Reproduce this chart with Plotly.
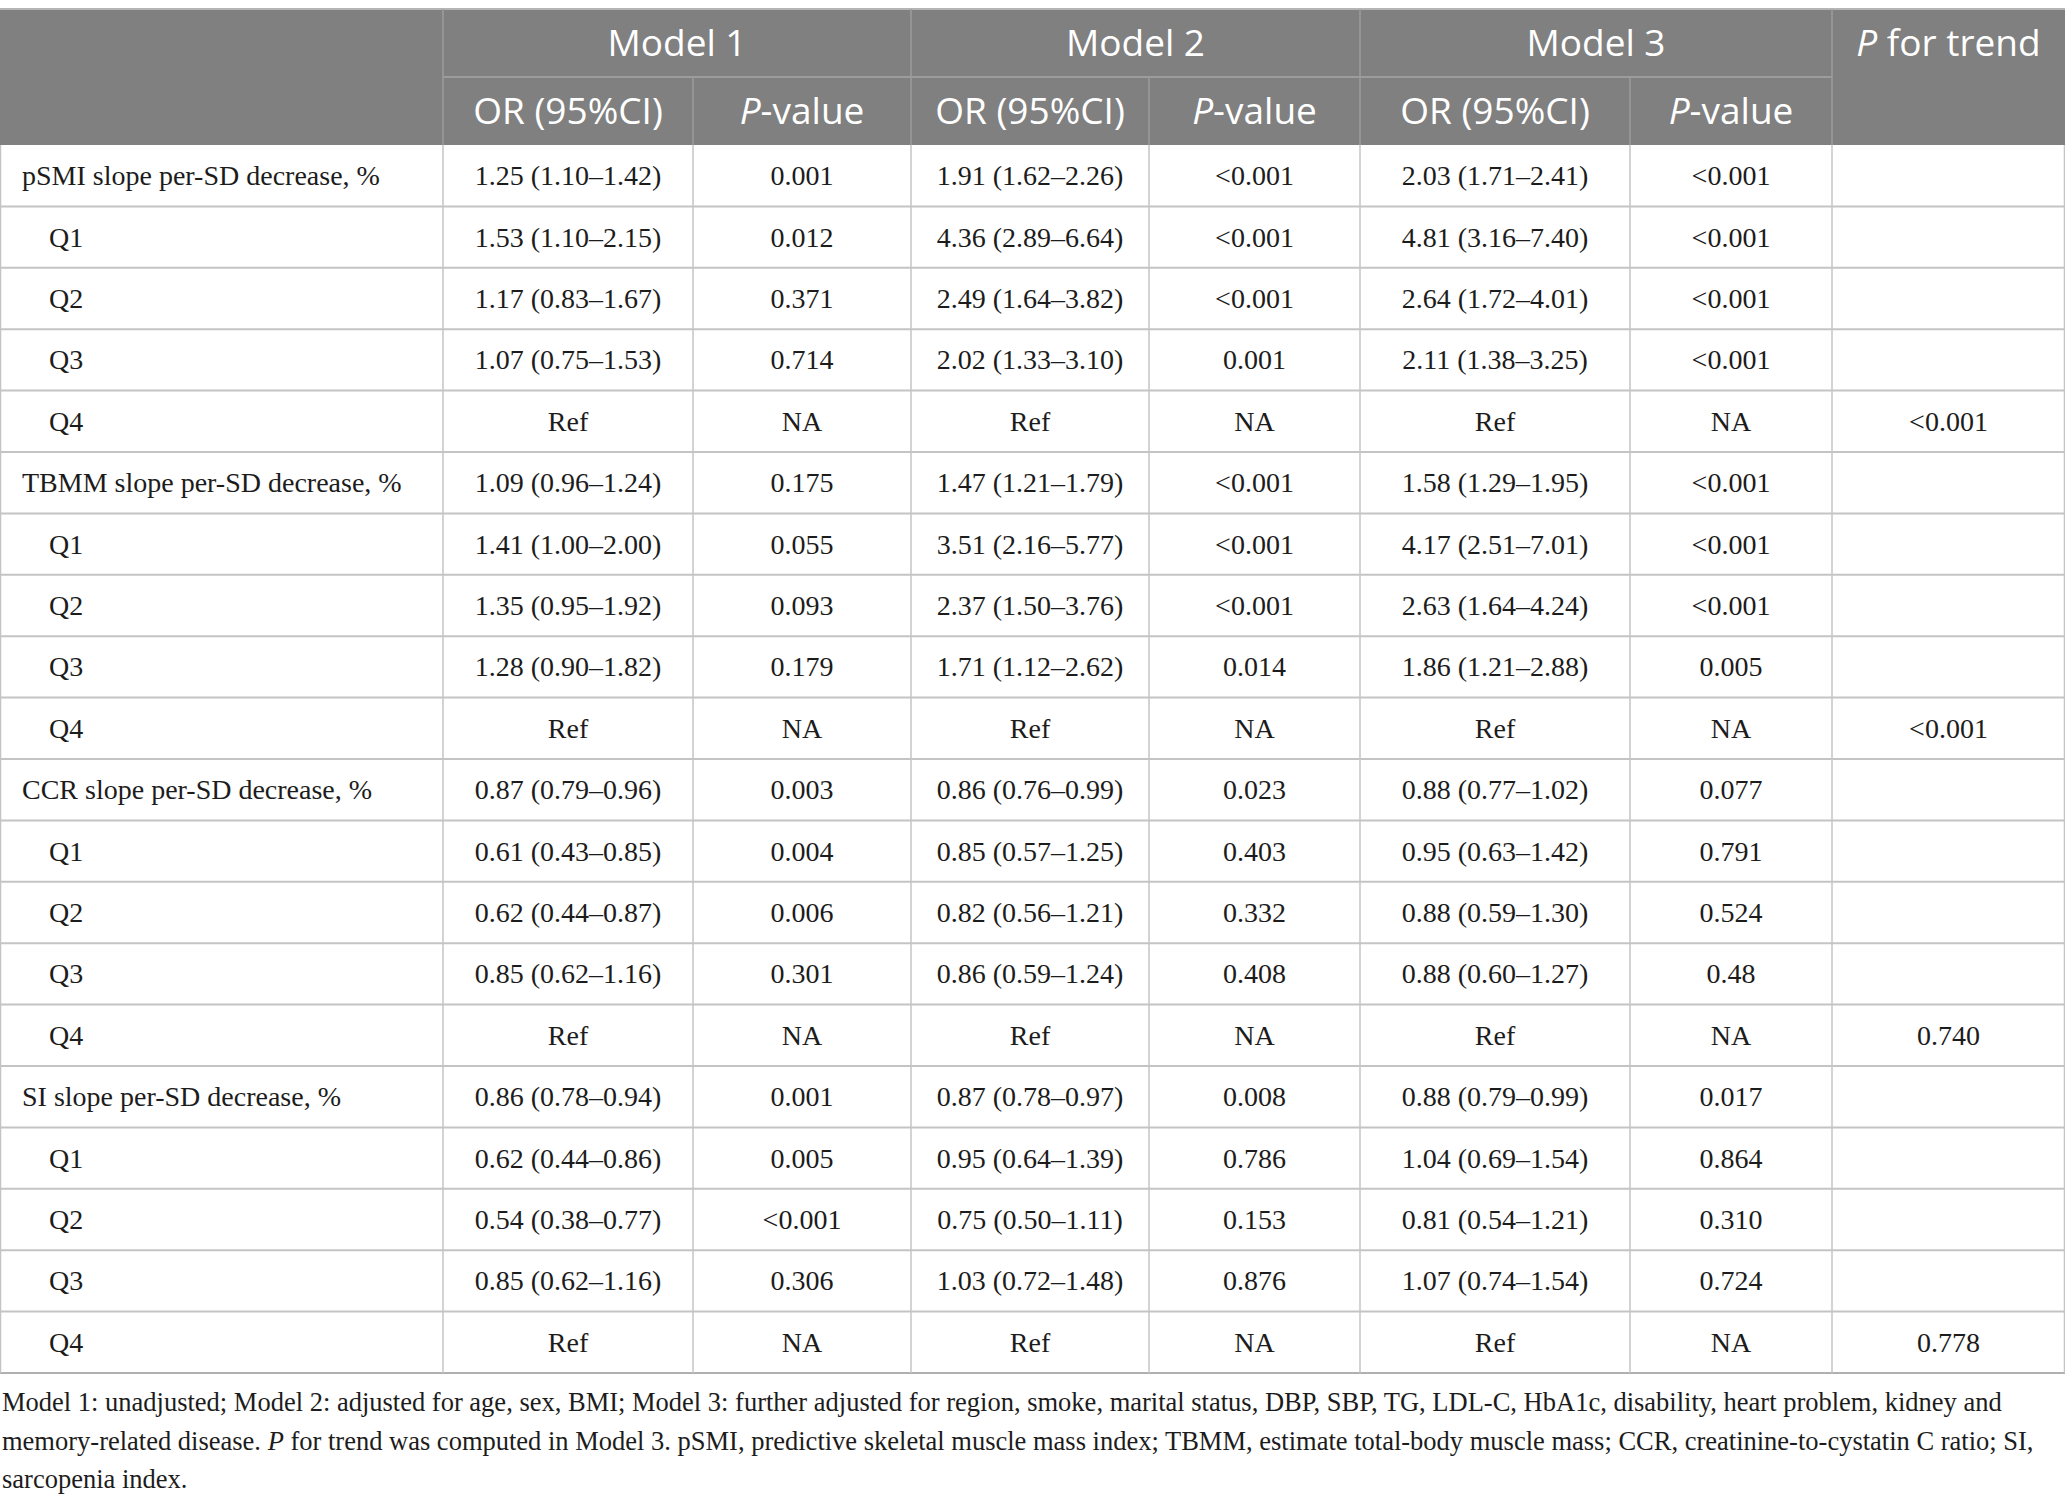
import plotly.graph_objects as go

# table content
row_labels = [
    "pSMI slope per-SD decrease, %", "Q1", "Q2", "Q3", "Q4",
    "TBMM slope per-SD decrease, %", "Q1", "Q2", "Q3", "Q4",
    "CCR slope per-SD decrease, %", "Q1", "Q2", "Q3", "Q4",
    "SI slope per-SD decrease, %", "Q1", "Q2", "Q3", "Q4",
]
m1_or = [
    "1.25 (1.10–1.42)", "1.53 (1.10–2.15)", "1.17 (0.83–1.67)", "1.07 (0.75–1.53)", "Ref",
    "1.09 (0.96–1.24)", "1.41 (1.00–2.00)", "1.35 (0.95–1.92)", "1.28 (0.90–1.82)", "Ref",
    "0.87 (0.79–0.96)", "0.61 (0.43–0.85)", "0.62 (0.44–0.87)", "0.85 (0.62–1.16)", "Ref",
    "0.86 (0.78–0.94)", "0.62 (0.44–0.86)", "0.54 (0.38–0.77)", "0.85 (0.62–1.16)", "Ref",
]
m1_p = [
    "0.001", "0.012", "0.371", "0.714", "NA",
    "0.175", "0.055", "0.093", "0.179", "NA",
    "0.003", "0.004", "0.006", "0.301", "NA",
    "0.001", "0.005", "<0.001", "0.306", "NA",
]
m2_or = [
    "1.91 (1.62–2.26)", "4.36 (2.89–6.64)", "2.49 (1.64–3.82)", "2.02 (1.33–3.10)", "Ref",
    "1.47 (1.21–1.79)", "3.51 (2.16–5.77)", "2.37 (1.50–3.76)", "1.71 (1.12–2.62)", "Ref",
    "0.86 (0.76–0.99)", "0.85 (0.57–1.25)", "0.82 (0.56–1.21)", "0.86 (0.59–1.24)", "Ref",
    "0.87 (0.78–0.97)", "0.95 (0.64–1.39)", "0.75 (0.50–1.11)", "1.03 (0.72–1.48)", "Ref",
]
m2_p = [
    "<0.001", "<0.001", "<0.001", "0.001", "NA",
    "<0.001", "<0.001", "<0.001", "0.014", "NA",
    "0.023", "0.403", "0.332", "0.408", "NA",
    "0.008", "0.786", "0.153", "0.876", "NA",
]
m3_or = [
    "2.03 (1.71–2.41)", "4.81 (3.16–7.40)", "2.64 (1.72–4.01)", "2.11 (1.38–3.25)", "Ref",
    "1.58 (1.29–1.95)", "4.17 (2.51–7.01)", "2.63 (1.64–4.24)", "1.86 (1.21–2.88)", "Ref",
    "0.88 (0.77–1.02)", "0.95 (0.63–1.42)", "0.88 (0.59–1.30)", "0.88 (0.60–1.27)", "Ref",
    "0.88 (0.79–0.99)", "1.04 (0.69–1.54)", "0.81 (0.54–1.21)", "1.07 (0.74–1.54)", "Ref",
]
m3_p = [
    "<0.001", "<0.001", "<0.001", "<0.001", "NA",
    "<0.001", "<0.001", "<0.001", "0.005", "NA",
    "0.077", "0.791", "0.524", "0.48", "NA",
    "0.017", "0.864", "0.310", "0.724", "NA",
]
p_trend = [
    "", "", "", "", "<0.001",
    "", "", "", "", "<0.001",
    "", "", "", "", "0.740",
    "", "", "", "", "0.778",
]
model_names = ["Model 1", "Model 2", "Model 3"]
sub_headers = ["OR (95%CI)", "<i>P</i>-value"]
trend_header = "<i>P</i> for trend"
footnote = [
    "Model 1: unadjusted; Model 2: adjusted for age, sex, BMI; Model 3: further adjusted for region, smoke, marital status, DBP, SBP, TG, LDL-C, HbA1c, disability, heart problem, kidney and",
    "memory-related disease. <i>P</i> for trend was computed in Model 3. pSMI, predictive skeletal muscle mass index; TBMM, estimate total-body muscle mass; CCR, creatinine-to-cystatin C ratio; SI,",
    "sarcopenia index.",
]

# layout (pixel units on the axes)
W, H = 2065, 1504
col_edges = [0, 443, 693, 911, 1149, 1360, 1630, 1832, 2065]
top = 9
head1_h = 68
head2_h = 68
row_h = 61.4
body_top = top + head1_h + head2_h
body_bottom = body_top + row_h * len(row_labels)

HEAD_BG = "#808080"
HEAD_LINE = "#9c9c9c"
GRID = "#c4c4c4"
TEXT = "#1c1c1c"
SERIF = "Liberation Serif"
SANS = "Open Sans"

fig = go.Figure()

# body text sits a touch below the geometric centre, as in the original
row_y = [body_top + row_h * (i + 0.5) + 2.5 for i in range(len(row_labels))]
centers = [(col_edges[i] + col_edges[i + 1]) / 2 for i in range(len(col_edges) - 1)]

shapes = []
# header background
shapes.append(dict(type="rect", x0=0, x1=W, y0=top, y1=body_top,
                   fillcolor=HEAD_BG, line_width=0, layer="below"))
shapes.append(dict(type="line", x0=0, x1=W, y0=top, y1=top,
                   line=dict(color="#b5b5b5", width=2)))
# header separators
shapes.append(dict(type="line", x0=col_edges[1], x1=col_edges[7], y0=top + head1_h, y1=top + head1_h,
                   line=dict(color=HEAD_LINE, width=2)))
for i in [1, 3, 5, 7]:
    shapes.append(dict(type="line", x0=col_edges[i], x1=col_edges[i], y0=top, y1=body_top,
                       line=dict(color=HEAD_LINE, width=1.5)))
for i in [2, 4, 6]:
    shapes.append(dict(type="line", x0=col_edges[i], x1=col_edges[i], y0=top + head1_h, y1=body_top,
                       line=dict(color=HEAD_LINE, width=1.5)))
# body grid
for i in range(1, len(row_labels) + 1):
    shapes.append(dict(type="line", x0=0, x1=W, y0=body_top + row_h * i, y1=body_top + row_h * i,
                       line=dict(color=GRID if i < len(row_labels) else "#b0b0b0", width=2)))
for e in col_edges[1:-1]:
    shapes.append(dict(type="line", x0=e, x1=e, y0=body_top, y1=body_bottom,
                       line=dict(color=GRID, width=1.5)))
shapes.append(dict(type="line", x0=0.5, x1=0.5, y0=body_top, y1=body_bottom,
                   line=dict(color=GRID, width=1.5)))
shapes.append(dict(type="line", x0=W - 0.5, x1=W - 0.5, y0=body_top, y1=body_bottom,
                   line=dict(color=GRID, width=1.5)))

# header text (nudged down a little: the sans face sits high when centred)
head_x = [(col_edges[1] + col_edges[3]) / 2, (col_edges[3] + col_edges[5]) / 2,
          (col_edges[5] + col_edges[7]) / 2, centers[7]]
fig.add_trace(go.Scatter(
    x=head_x, y=[top + head1_h / 2 + 4] * 4, mode="text",
    text=model_names + [trend_header], textposition="middle center",
    textfont=dict(family=SANS, size=37, color="white"), hoverinfo="skip"))
fig.add_trace(go.Scatter(
    x=centers[1:7], y=[top + head1_h + head2_h / 2 + 4] * 6, mode="text",
    text=sub_headers * 3, textposition="middle center",
    textfont=dict(family=SANS, size=37, color="white"), hoverinfo="skip"))

# first column: group rows flush, quartile rows indented
label_x = [49 if lab.startswith("Q") else 22 for lab in row_labels]
fig.add_trace(go.Scatter(
    x=label_x, y=row_y, mode="text", text=row_labels, textposition="middle right",
    textfont=dict(family=SERIF, size=28, color=TEXT), hoverinfo="skip"))

for k, col in enumerate([m1_or, m1_p, m2_or, m2_p, m3_or, m3_p, p_trend]):
    fig.add_trace(go.Scatter(
        x=[centers[k + 1]] * len(col), y=row_y, mode="text", text=col,
        textposition="middle center",
        textfont=dict(family=SERIF, size=28, color=TEXT), hoverinfo="skip"))

annotations = []
for i, line in enumerate(footnote):
    annotations.append(dict(x=0, y=body_bottom + 29 + 38.5 * i, xref="x", yref="y",
                            text=line, showarrow=False, xanchor="left", yanchor="middle",
                            align="left", font=dict(family=SERIF, size=26.5, color=TEXT)))

fig.update_layout(
    width=W, height=H,
    margin=dict(l=0, r=0, t=0, b=0),
    paper_bgcolor="white", plot_bgcolor="white",
    showlegend=False,
    shapes=shapes, annotations=annotations,
    xaxis=dict(range=[0, W], visible=False, fixedrange=True),
    yaxis=dict(range=[H, 0], visible=False, fixedrange=True),
)

fig.write_html("out.html", config={"displayModeBar": False},
               post_script="document.body.style.margin='0';")
